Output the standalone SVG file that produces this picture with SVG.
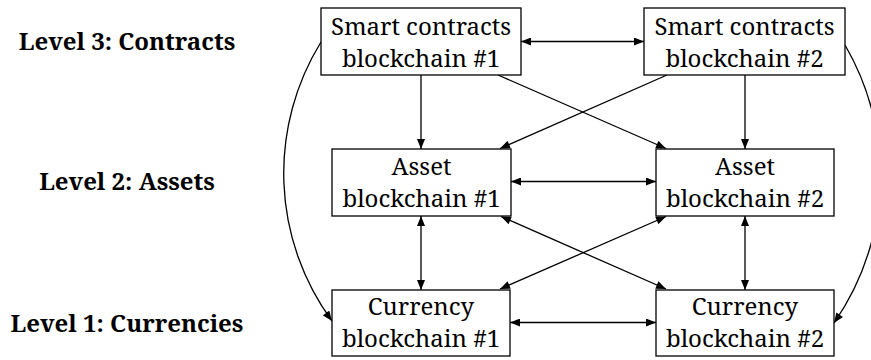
<svg xmlns="http://www.w3.org/2000/svg" width="871" height="360" viewBox="0 0 871 360">
<style>
.box{fill:#fff;stroke:#000;stroke-width:1.3}
.t{font-family:"Noto Serif","DejaVu Serif","Liberation Serif",serif;font-size:24px;text-anchor:middle;fill:#000}
.lv{font-family:"Noto Serif","DejaVu Serif","Liberation Serif",serif;font-size:24px;font-weight:bold;text-anchor:middle;fill:#000}
.e{fill:none;stroke:#000;stroke-width:1.3}
</style>
<defs>
<marker id="ah" viewBox="0 0 10 8" refX="10" refY="4" markerUnits="userSpaceOnUse" markerWidth="11" markerHeight="8" orient="auto-start-reverse">
<path d="M0,0 L10,4 L0,8 Z" fill="#000"/>
</marker>
</defs>
<rect width="871" height="360" fill="#fff"/>
<g id="labels">
<text class="lv" x="127" y="50">Level 3: Contracts</text>
<text class="lv" x="127" y="190">Level 2: Assets</text>
<text class="lv" x="127" y="332">Level 1: Currencies</text>
</g>
<g id="connectors">
<line class="e" x1="521" y1="41.5" x2="644" y2="41.5" marker-start="url(#ah)" marker-end="url(#ah)"/>
<line class="e" x1="421" y1="75" x2="421" y2="149" marker-end="url(#ah)"/>
<line class="e" x1="745" y1="75" x2="745" y2="149" marker-end="url(#ah)"/>
<line class="e" x1="498" y1="75" x2="666" y2="148.5" marker-end="url(#ah)"/>
<line class="e" x1="667" y1="75" x2="500" y2="148.5" marker-end="url(#ah)"/>
<line class="e" x1="511" y1="181.5" x2="656" y2="181.5" marker-start="url(#ah)" marker-end="url(#ah)"/>
<line class="e" x1="421" y1="216" x2="421" y2="290" marker-start="url(#ah)" marker-end="url(#ah)"/>
<line class="e" x1="745" y1="216" x2="745" y2="290" marker-start="url(#ah)" marker-end="url(#ah)"/>
<line class="e" x1="501" y1="216.5" x2="666" y2="289" marker-start="url(#ah)" marker-end="url(#ah)"/>
<line class="e" x1="666" y1="216.5" x2="500" y2="289" marker-start="url(#ah)" marker-end="url(#ah)"/>
<line class="e" x1="510" y1="322.5" x2="656" y2="322.5" marker-start="url(#ah)" marker-end="url(#ah)"/>
<path class="e" d="M321,42 A250,250 0 0,0 332,321" marker-end="url(#ah)"/>
<path class="e" d="M845,45 A260,260 0 0,1 834,323" marker-end="url(#ah)"/>
</g>
<g id="sc1"><rect class="box" x="321" y="8" width="200" height="67"/><text class="t" x="421" y="35">Smart contracts</text><text class="t" x="421" y="66.5">blockchain #1</text></g>
<g id="sc2"><rect class="box" x="644" y="8" width="201" height="67"/><text class="t" x="744.5" y="35">Smart contracts</text><text class="t" x="744.5" y="66.5">blockchain #2</text></g>
<g id="asset1"><rect class="box" x="332" y="149" width="179" height="67"/><text class="t" x="421.5" y="175">Asset</text><text class="t" x="421.5" y="207">blockchain #1</text></g>
<g id="asset2"><rect class="box" x="656" y="149" width="178" height="67"/><text class="t" x="745" y="175">Asset</text><text class="t" x="745" y="207">blockchain #2</text></g>
<g id="cur1"><rect class="box" x="332" y="290" width="178" height="66"/><text class="t" x="421" y="315">Currency</text><text class="t" x="421" y="347">blockchain #1</text></g>
<g id="cur2"><rect class="box" x="656" y="290" width="178" height="66"/><text class="t" x="745" y="315">Currency</text><text class="t" x="745" y="347">blockchain #2</text></g>
</svg>
